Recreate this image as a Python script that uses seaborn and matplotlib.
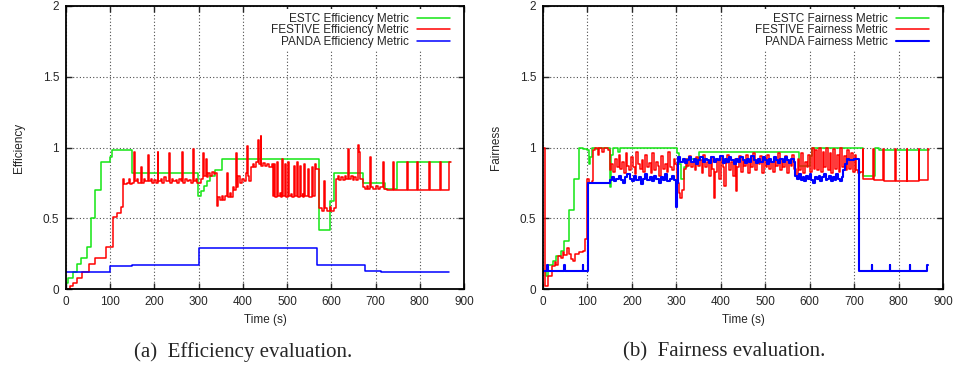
import matplotlib
matplotlib.use("Agg")
import matplotlib.pyplot as plt
from matplotlib.ticker import FuncFormatter, MultipleLocator
import pandas as pd
import seaborn as sns

# (time in s, value) samples, drawn as steps

# (a) efficiency
estc_eff = [(0, 0.04), (5, 0.08), (15, 0.12), (25, 0.18), (35, 0.22), (47, 0.30), (57, 0.50),
            (65, 0.70), (80, 0.90), (100, 0.93), (105, 0.98), (150, 0.82), (299, 0.66), (306, 0.69),
            (312, 0.73), (318, 0.76), (326, 0.80), (336, 0.84), (352, 0.92), (573, 0.42), (596, 0.62),
            (607, 0.82), (671, 0.75), (721, 0.71), (749, 0.90), (868, 0.90)]

festive_eff = [(0, 0.00), (8, 0.02), (16, 0.04), (26, 0.08), (36, 0.12), (52, 0.18), (66, 0.22),
               (90, 0.30), (106, 0.51), (115, 0.54), (124, 0.58), (128, 0.78), (131, 0.74), (138, 0.75),
               (142, 0.78), (144, 0.74), (150, 0.75), (154, 0.97), (156, 0.76), (160, 0.78), (163, 0.75),
               (169, 0.86), (171, 0.75), (176, 0.78), (179, 0.76), (186, 0.95), (188, 0.76), (192, 0.78),
               (195, 0.75), (200, 0.77), (203, 0.75), (207, 0.97), (209, 0.76), (214, 0.78), (217, 0.75),
               (222, 0.79), (225, 0.76), (233, 0.96), (235, 0.75), (240, 0.78), (243, 0.76), (248, 0.77),
               (252, 0.75), (256, 0.78), (260, 0.76), (263, 0.97), (265, 0.75), (270, 0.78), (273, 0.76),
               (278, 0.77), (282, 0.75), (288, 0.99), (290, 0.76), (294, 0.78), (297, 0.75), (305, 0.78),
               (310, 0.96), (312, 0.80), (316, 0.92), (318, 0.79), (322, 0.82), (326, 0.80), (330, 0.83),
               (334, 0.81), (338, 0.82), (341, 0.59), (343, 0.65), (348, 0.63), (352, 0.66), (356, 0.63),
               (360, 0.66), (364, 0.82), (366, 0.65), (370, 0.68), (374, 0.65), (378, 0.72), (381, 0.70),
               (385, 0.96), (387, 0.72), (390, 0.80), (394, 0.75), (398, 0.78), (402, 0.76), (406, 0.82),
               (409, 1.01), (411, 0.80), (414, 0.76), (418, 0.86), (422, 0.88), (426, 0.86), (430, 0.90),
               (434, 1.05), (436, 0.88), (440, 1.08), (442, 0.87), (446, 0.89), (450, 0.87), (455, 0.88),
               (460, 0.86), (465, 0.88), (468, 0.66), (470, 0.88), (472, 0.65), (477, 0.90), (479, 0.66),
               (484, 0.68), (487, 0.65), (488, 0.92), (490, 0.66), (496, 0.88), (498, 0.65), (503, 0.90),
               (505, 0.66), (509, 0.67), (512, 0.65), (515, 0.87), (517, 0.66), (522, 0.90), (524, 0.65),
               (530, 0.87), (532, 0.66), (535, 0.67), (537, 0.65), (539, 0.88), (541, 0.66), (548, 0.85),
               (550, 0.65), (556, 0.86), (558, 0.66), (563, 0.88), (565, 0.85), (572, 0.57), (578, 0.55),
               (583, 0.76), (585, 0.57), (590, 0.55), (596, 0.58), (600, 0.55), (605, 0.57), (610, 0.78),
               (614, 0.80), (618, 0.77), (622, 0.79), (626, 0.77), (630, 0.80), (634, 0.78), (637, 0.99),
               (639, 0.78), (644, 0.80), (648, 0.77), (652, 0.79), (656, 0.77), (660, 1.02), (663, 0.97),
               (665, 0.78), (671, 0.72), (676, 0.71), (680, 0.73), (684, 0.71), (688, 0.93), (690, 0.72),
               (695, 0.71), (700, 0.73), (705, 0.71), (710, 0.72), (716, 0.90), (718, 0.71), (725, 0.70),
               (740, 0.90), (742, 0.70), (771, 0.90), (773, 0.70), (793, 0.90), (795, 0.70), (821, 0.90),
               (823, 0.70), (845, 0.90), (847, 0.70), (867, 0.90), (870, 0.90)]

panda_eff = [(0, 0.12), (100, 0.16), (150, 0.17), (300, 0.29), (568, 0.17), (675, 0.13),
             (712, 0.12), (865, 0.12)]

# (b) fairness
estc_fair = [(0, 0.13), (6, 0.09), (12, 0.17), (22, 0.20), (30, 0.23), (40, 0.27), (48, 0.34),
             (58, 0.56), (70, 0.78), (82, 1.00), (90, 0.99), (100, 0.98), (103, 0.88), (106, 0.93),
             (110, 1.00), (120, 0.99), (126, 1.00), (150, 0.72), (153, 0.95), (158, 1.00), (168, 0.97),
             (174, 1.00), (301, 0.96), (306, 0.88), (311, 0.78), (318, 0.86), (324, 0.92), (352, 0.97),
             (575, 0.87), (600, 0.94), (606, 1.00), (721, 0.80), (746, 1.00), (756, 0.98), (868, 0.98)]

festive_fair = [(0, 1.00), (4, 0.02), (12, 0.09), (20, 0.16), (26, 0.19), (30, 0.17), (34, 0.23),
                (40, 0.22), (44, 0.26), (48, 0.24), (54, 0.29), (58, 0.25), (62, 0.21), (68, 0.20),
                (72, 0.25), (82, 0.26), (90, 0.27), (95, 0.35), (100, 0.78), (104, 0.75), (110, 0.76),
                (113, 0.98), (118, 1.00), (123, 0.95), (127, 1.00), (133, 0.97), (137, 1.00), (146, 0.98),
                (150, 0.84), (154, 0.88), (158, 0.83), (162, 0.92), (166, 0.86), (170, 0.95), (174, 0.85),
                (178, 0.90), (182, 0.82), (186, 0.96), (190, 0.87), (194, 0.84), (198, 0.93), (202, 0.86),
                (206, 0.81), (210, 0.97), (214, 0.88), (218, 0.85), (222, 0.91), (226, 0.83), (230, 0.95),
                (234, 0.86), (238, 0.89), (242, 0.82), (246, 0.96), (250, 0.84), (254, 0.90), (258, 0.87),
                (262, 0.80), (266, 0.94), (270, 0.85), (274, 0.88), (278, 0.83), (282, 0.97), (286, 0.86),
                (290, 0.84), (294, 0.92), (298, 0.88), (302, 0.75), (305, 0.68), (309, 0.64), (313, 0.70),
                (317, 0.85), (321, 0.92), (325, 0.87), (329, 0.94), (333, 0.86), (337, 0.90), (341, 0.84),
                (345, 0.93), (349, 0.87), (353, 0.91), (357, 0.82), (361, 0.95), (365, 0.86), (369, 0.90),
                (373, 0.80), (377, 0.93), (381, 0.85), (385, 0.64), (388, 0.83), (392, 0.91), (396, 0.78),
                (400, 0.94), (404, 0.86), (408, 0.73), (411, 0.89), (415, 0.95), (419, 0.84), (423, 0.90),
                (427, 0.80), (431, 0.92), (434, 0.69), (437, 0.86), (441, 0.94), (445, 0.83), (449, 0.91),
                (453, 0.87), (457, 0.95), (461, 0.82), (465, 0.90), (469, 0.86), (473, 0.96), (477, 0.84),
                (481, 0.91), (485, 0.88), (489, 0.94), (493, 0.82), (497, 0.92), (501, 0.86), (505, 0.95),
                (509, 0.85), (513, 0.90), (517, 0.83), (521, 0.93), (525, 0.87), (529, 0.96), (533, 0.84),
                (537, 0.91), (541, 0.86), (545, 0.94), (549, 0.82), (553, 0.90), (557, 0.87), (561, 0.95),
                (565, 0.85), (569, 0.80), (573, 0.92), (577, 0.84), (581, 0.96), (585, 0.82), (589, 0.90),
                (593, 0.86), (597, 0.95), (601, 0.83), (605, 1.00), (609, 0.85), (613, 0.98), (617, 0.84),
                (621, 1.00), (625, 0.83), (629, 0.97), (633, 0.86), (637, 1.00), (641, 0.84), (645, 0.96),
                (649, 0.82), (653, 0.99), (657, 0.85), (661, 0.95), (665, 0.83), (669, 1.00), (673, 0.86),
                (677, 0.94), (681, 0.84), (685, 0.98), (689, 0.85), (693, 0.96), (697, 0.83), (701, 0.95),
                (705, 0.84), (709, 0.82), (713, 0.83), (719, 0.99), (721, 0.78), (742, 0.99), (744, 0.77),
                (766, 0.99), (768, 0.76), (792, 0.99), (794, 0.76), (818, 0.99), (820, 0.76), (845, 0.99),
                (847, 0.77), (866, 0.99), (868, 0.99)]

panda_fair = [(0, 0.13), (10, 0.17), (11, 0.13), (48, 0.17), (49, 0.13), (89, 0.17), (90, 0.13),
              (101, 0.75), (150, 0.77), (155, 0.79), (160, 0.76), (165, 0.78), (170, 0.80), (175, 0.77),
              (180, 0.75), (185, 0.79), (190, 0.81), (195, 0.78), (200, 0.76), (205, 0.80), (210, 0.77),
              (215, 0.79), (220, 0.74), (225, 0.78), (230, 0.81), (235, 0.77), (240, 0.79), (245, 0.76),
              (250, 0.80), (255, 0.78), (260, 0.75), (265, 0.79), (270, 0.77), (275, 0.81), (280, 0.76),
              (285, 0.78), (290, 0.80), (295, 0.77), (300, 0.58), (302, 0.75), (304, 0.93), (309, 0.90),
              (314, 0.92), (319, 0.89), (324, 0.91), (329, 0.93), (334, 0.90), (339, 0.92), (344, 0.88),
              (349, 0.91), (354, 0.93), (359, 0.90), (364, 0.92), (369, 0.91), (374, 0.89), (379, 0.93),
              (384, 0.90), (389, 0.92), (394, 0.91), (399, 0.94), (404, 0.89), (409, 0.92), (414, 0.90),
              (419, 0.93), (424, 0.91), (429, 0.88), (434, 0.92), (439, 0.90), (444, 0.93), (449, 0.91),
              (454, 0.89), (459, 0.92), (464, 0.90), (469, 0.94), (474, 0.91), (479, 0.89), (484, 0.92),
              (489, 0.90), (494, 0.93), (499, 0.91), (504, 0.88), (509, 0.92), (514, 0.90), (519, 0.93),
              (524, 0.91), (529, 0.89), (534, 0.92), (539, 0.90), (544, 0.93), (549, 0.91), (554, 0.89),
              (559, 0.92), (564, 0.90), (568, 0.80), (572, 0.78), (576, 0.81), (580, 0.77), (584, 0.79),
              (588, 0.76), (592, 0.80), (596, 0.78), (600, 0.81), (604, 0.77), (608, 0.75), (612, 0.79),
              (616, 0.78), (620, 0.80), (624, 0.76), (628, 0.79), (632, 0.81), (636, 0.77), (640, 0.78),
              (644, 0.80), (648, 0.76), (652, 0.79), (656, 0.77), (660, 0.81), (664, 0.78), (668, 0.76),
              (672, 0.79), (676, 0.84), (679, 0.88), (683, 0.92), (688, 0.91), (700, 0.92), (712, 0.13),
              (740, 0.17), (741, 0.13), (780, 0.17), (781, 0.13), (825, 0.17), (826, 0.13), (865, 0.17),
              (866, 0.17)]

GREEN, RED, BLUE = "#14e614", "#ff0000", "#0000ff"


def to_frame(pairs):
    t, v = zip(*pairs)
    return pd.DataFrame({"t": t, "v": v})


def draw_panel(ax, series, ylabel):
    for pairs, label, color, lw in series:
        sns.lineplot(data=to_frame(pairs), x="t", y="v", ax=ax, color=color, lw=lw,
                     label=label, drawstyle="steps-post", estimator=None, sort=False)
    ax.set_xlim(0, 900)
    ax.set_ylim(0, 2)
    ax.xaxis.set_major_locator(MultipleLocator(100))
    ax.yaxis.set_major_locator(MultipleLocator(0.5))
    ax.yaxis.set_major_formatter(FuncFormatter(lambda v, p: "%g" % v))
    ax.grid(True, color="0.3", linestyle=(0, (1, 2)), lw=0.8)
    ax.set_axisbelow(True)
    ax.tick_params(direction="in", length=4, width=1, top=True, right=True,
                   labelsize=8.5, pad=5)
    for s in ax.spines.values():
        s.set_visible(True)
        s.set_linewidth(1.3)
        s.set_color("black")
    ax.set_xlabel("Time (s)", fontsize=8.5, labelpad=4)
    ax.set_ylabel(ylabel, fontsize=8.5, labelpad=13)
    # gnuplot key: opaque box without border, text right-aligned before the sample
    leg = ax.legend(loc="upper right", bbox_to_anchor=(0.974, 0.988), frameon=True,
                    facecolor="white", edgecolor="none", framealpha=1, fancybox=False,
                    markerfirst=False, fontsize=8.5, handlelength=2.8, handletextpad=0.7,
                    labelspacing=-0.05, borderpad=0.3, borderaxespad=0)
    leg.set_zorder(5)


sns.set_style("ticks")
plt.rcParams["font.family"] = ["Liberation Sans", "DejaVu Sans"]

fig = plt.figure(figsize=(9.55, 3.68), dpi=100)
ax1 = fig.add_axes([66 / 955, 79 / 368, 398 / 955, 283 / 368])
ax2 = fig.add_axes([543 / 955, 79 / 368, 400 / 955, 283 / 368])

draw_panel(ax1, [(estc_eff, "ESTC Efficiency Metric", GREEN, 1.1),
                 (festive_eff, "FESTIVE Efficiency Metric", RED, 1.1),
                 (panda_eff, "PANDA Efficiency Metric", BLUE, 1.1)], "Efficiency")
draw_panel(ax2, [(estc_fair, "ESTC Fairness Metric", GREEN, 1.1),
                 (festive_fair, "FESTIVE Fairness Metric", RED, 1.1),
                 (panda_fair, "PANDA Fairness Metric", BLUE, 1.5)], "Fairness")

fig.text(243 / 955, 1 - 352 / 368, "(a)  Efficiency evaluation.", ha="center", va="center",
         fontsize=15, family="Liberation Serif")
fig.text(724 / 955, 1 - 352 / 368, "(b)  Fairness evaluation.", ha="center", va="center",
         fontsize=15, family="Liberation Serif")

fig.savefig("out.png", dpi=100)
